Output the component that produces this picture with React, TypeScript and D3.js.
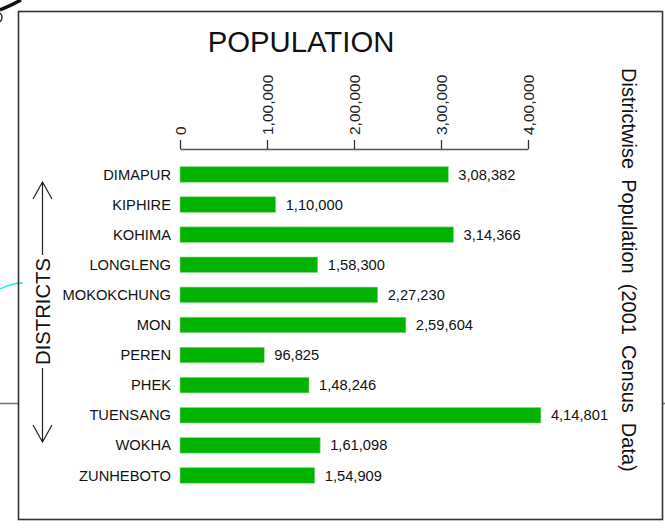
import React, { useEffect, useRef } from 'react'
import * as d3 from 'd3'

const districts = [
  'DIMAPUR',
  'KIPHIRE',
  'KOHIMA',
  'LONGLENG',
  'MOKOKCHUNG',
  'MON',
  'PEREN',
  'PHEK',
  'TUENSANG',
  'WOKHA',
  'ZUNHEBOTO'
]
const population = [
  308382, 110000, 314366, 158300, 227230, 259604, 96825, 148246, 414801,
  161098, 154909
]
const tickValues = [0, 100000, 200000, 300000, 400000]

// indian digit grouping, e.g. 4,14,801
const inr = (v: number) => {
  const s = String(Math.round(v))
  if (s.length <= 3) return s
  const last3 = s.slice(-3)
  let rest = s.slice(0, -3)
  const parts: string[] = []
  while (rest.length > 2) {
    parts.unshift(rest.slice(-2))
    rest = rest.slice(0, -2)
  }
  if (rest) parts.unshift(rest)
  return parts.join(',') + ',' + last3
}

const FONT = '"Liberation Sans", Arial, Helvetica, sans-serif'

const App = () => {
  const svgRef = useRef<SVGSVGElement>(null)

  useEffect(() => {
    const svg = d3.select(svgRef.current)
    svg.selectAll('*').remove()

    const width = 665
    const height = 529
    const axisY = 149

    const x = d3.scaleLinear().domain([0, 400000]).range([180, 528])
    const y = d3
      .scaleBand<string>()
      .domain(districts)
      .range([159.4, 490.5])
      .paddingInner(0.485)
      .paddingOuter(0.2425)

    svg.attr('width', width).attr('height', height).style('font-family', FONT)

    // scan leftovers around the frame
    svg
      .append('path')
      .attr('d', 'M0,10 Q10,6 21,0')
      .attr('fill', 'none')
      .attr('stroke', '#111')
      .attr('stroke-width', 3.5)
    svg
      .append('path')
      .attr('d', 'M0,13 Q4,17 0,22')
      .attr('fill', 'none')
      .attr('stroke', '#222')
      .attr('stroke-width', 1.3)
    svg
      .append('path')
      .attr('d', 'M0,289 Q12,283 23,283')
      .attr('fill', 'none')
      .attr('stroke', '#19e3f5')
      .attr('stroke-width', 1.3)
    svg
      .append('line')
      .attr('x1', 0)
      .attr('x2', 18)
      .attr('y1', 403.5)
      .attr('y2', 403.5)
      .attr('stroke', '#777')
      .attr('stroke-width', 1.5)
    svg
      .append('line')
      .attr('x1', 663)
      .attr('x2', 665)
      .attr('y1', 403.5)
      .attr('y2', 403.5)
      .attr('stroke', '#777')
      .attr('stroke-width', 1.5)

    // frame
    svg
      .append('rect')
      .attr('x', 18.5)
      .attr('y', 11.5)
      .attr('width', 644)
      .attr('height', 508)
      .attr('fill', 'none')
      .attr('stroke', '#333')
      .attr('stroke-width', 1.6)

    svg
      .append('text')
      .attr('x', 301)
      .attr('y', 52)
      .attr('text-anchor', 'middle')
      .style('font-size', '29.3px')
      .attr('fill', '#111')
      .text('POPULATION')

    // top axis with rotated labels
    const axis = d3
      .axisTop(x)
      .tickValues(tickValues)
      .tickSize(9)
      .tickSizeOuter(0)
      .tickFormat(d => inr(d as number))

    const g = svg
      .append('g')
      .attr('transform', `translate(0,${axisY})`)
      .call(axis)
    g.select('.domain').attr('stroke', '#555').attr('stroke-width', 1.5)
    g.selectAll('.tick line').attr('stroke', '#333').attr('stroke-width', 1.3)
    g.selectAll('.tick text')
      .attr('transform', 'rotate(-90)')
      .attr('x', 14)
      .attr('y', 5.5)
      .attr('dy', '0')
      .attr('text-anchor', 'start')
      .attr('fill', '#222')
      .style('font-size', '15.5px')
      .style('font-family', FONT)

    const rows = svg
      .append('g')
      .selectAll('g')
      .data(districts)
      .enter()
      .append('g')

    rows
      .append('rect')
      .attr('x', x(0))
      .attr('y', d => y(d) as number)
      .attr('width', (d, i) => x(population[i]) - x(0))
      .attr('height', y.bandwidth())
      .attr('fill', '#00b300')
      .attr('stroke', '#8ad88a')
      .attr('stroke-width', 0.6)

    rows
      .append('text')
      .attr('x', 171)
      .attr('y', d => (y(d) as number) + y.bandwidth() / 2)
      .attr('dy', '0.35em')
      .attr('text-anchor', 'end')
      .style('font-size', '14.7px')
      .attr('fill', '#111')
      .text(d => d)

    rows
      .append('text')
      .attr('x', (d, i) => x(population[i]) + 10)
      .attr('y', d => (y(d) as number) + y.bandwidth() / 2)
      .attr('dy', '0.35em')
      .style('font-size', '14.7px')
      .attr('fill', '#111')
      .text((d, i) => inr(population[i]))

    // left axis title with arrows
    const ax = 42.5
    const arrow = svg
      .append('g')
      .attr('fill', 'none')
      .attr('stroke', '#222')
      .attr('stroke-width', 1.2)
    arrow.append('path').attr('d', `M${ax},182 V255 M${ax - 9.5},199 L${ax},182 L${ax + 9.5},199`)
    arrow.append('path').attr('d', `M${ax},368 V442 M${ax - 9.5},425 L${ax},442 L${ax + 9.5},425`)

    svg
      .append('text')
      .attr('transform', `translate(49.5,311.5) rotate(-90)`)
      .attr('text-anchor', 'middle')
      .style('font-size', '20.3px')
      .attr('fill', '#111')
      .text('DISTRICTS')

    svg
      .append('text')
      .attr('transform', 'translate(622,68) rotate(90)')
      .style('font-size', '20px')
      .style('word-spacing', '4.5px')
      .attr('fill', '#111')
      .text('Districtwise Population (2001 Census Data)')
  }, [])

  return (
    <svg
      ref={svgRef}
      width={665}
      height={529}
      style={{ position: 'absolute', left: 0, top: 0, background: '#fff' }}
    />
  )
}

export default App
